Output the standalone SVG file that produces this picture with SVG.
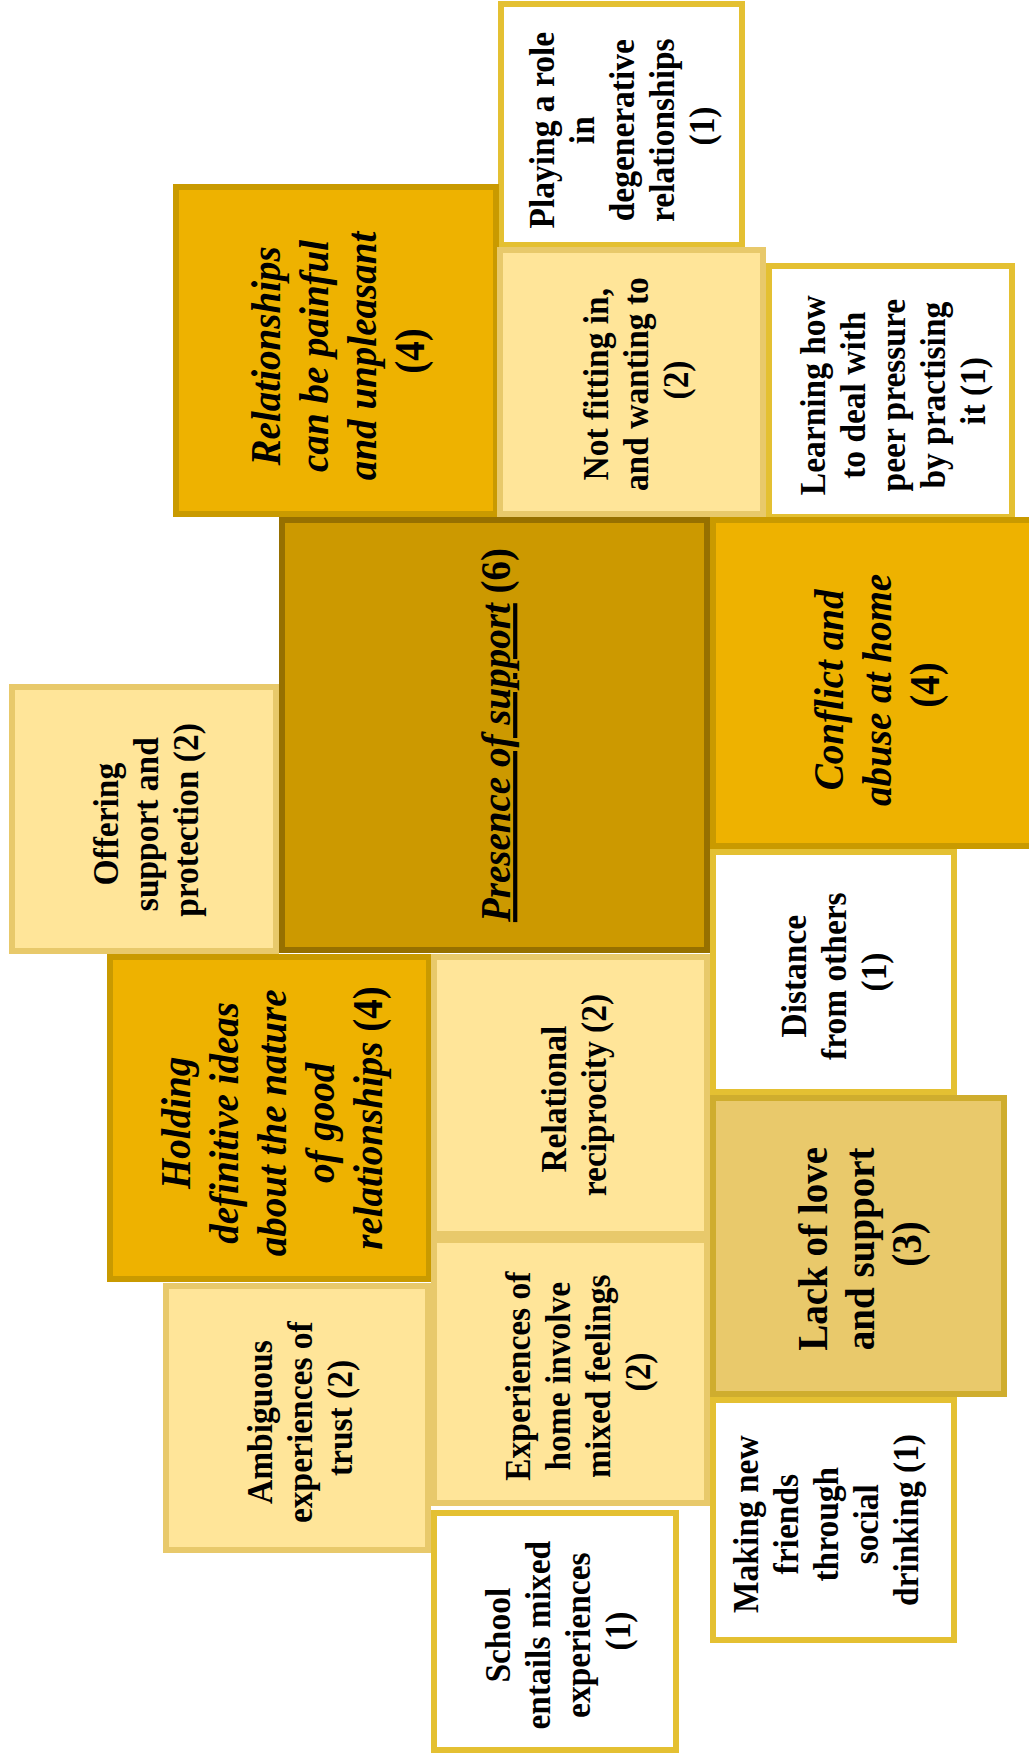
<svg xmlns="http://www.w3.org/2000/svg" width="1029" height="1755" viewBox="0 0 1029 1755">
  <style>
    .box { stroke-width: 6; }
    .core { fill: #CC9900; stroke: #967000; }
    .mid { fill: #EEB200; stroke: #C99A00; }
    .light { fill: #FFE599; stroke: #E8C96B; }
    .lack { fill: #E9C96B; stroke: #CFAD2E; }
    .plain { fill: #FFFFFF; stroke: #E4C032; }
    text { font-family: "Liberation Serif", "Times New Roman", serif; font-weight: bold; text-anchor: middle; fill: #000; }
    .s { font-size: 36px; }
    .b { font-size: 42px; }
    .it { font-style: italic; }
    .up { font-style: normal; }
    .ul { text-decoration: underline; }
  </style>
  <rect width="1029" height="1755" fill="#FFFFFF"/>

  <g id="nodes">
    <g id="playing-a-role">
      <rect class="box plain" x="501" y="4" width="241" height="241"/>
      <text class="s" transform="translate(622,126) rotate(-90) scale(0.93,1)">
        <tspan x="0" y="-68">Playing a role</tspan>
        <tspan x="0" y="-28">in</tspan>
        <tspan x="0" y="12">degenerative</tspan>
        <tspan x="0" y="52">relationships</tspan>
        <tspan x="0" y="92">(1)</tspan>
      </text>
    </g>

    <g id="relationships-painful">
      <rect class="box mid" x="176" y="187" width="320" height="327"/>
      <text class="b it" transform="translate(338,351) rotate(-90) scale(0.93,1)">
        <tspan x="0" y="-58">Relationships</tspan>
        <tspan x="0" y="-10">can be painful</tspan>
        <tspan x="0" y="38">and unpleasant</tspan>
        <tspan x="0" y="86" class="up">(4)</tspan>
      </text>
    </g>

    <g id="not-fitting-in">
      <rect class="box light" x="500" y="250" width="263" height="264"/>
      <text class="s" transform="translate(636,380) rotate(-90) scale(0.93,1)">
        <tspan x="0" y="-28">Not fitting in,</tspan>
        <tspan x="0" y="12">and wanting to</tspan>
        <tspan x="0" y="52">(2)</tspan>
      </text>
    </g>

    <g id="learning-peer-pressure">
      <rect class="box plain" x="769" y="266" width="243" height="251"/>
      <text class="s" transform="translate(893,391) rotate(-90) scale(0.93,1)">
        <tspan x="0" y="-68">Learning how</tspan>
        <tspan x="0" y="-28">to deal with</tspan>
        <tspan x="0" y="12">peer pressure</tspan>
        <tspan x="0" y="52">by practising</tspan>
        <tspan x="0" y="92">it (1)</tspan>
      </text>
    </g>

    <g id="presence-of-support">
      <rect class="box core" x="282" y="520" width="425" height="430"/>
      <text class="b" transform="translate(496,735) rotate(-90) scale(0.93,1)">
        <tspan x="0" y="14"><tspan class="it ul">Presence of support</tspan> (6)</tspan>
      </text>
    </g>

    <g id="conflict-abuse-home">
      <rect class="box mid" x="713" y="520" width="330" height="326"/>
      <text class="b it" transform="translate(877,685) rotate(-90) scale(0.93,1)">
        <tspan x="0" y="-34">Conflict and</tspan>
        <tspan x="0" y="14">abuse at home</tspan>
        <tspan x="0" y="62" class="up">(4)</tspan>
      </text>
    </g>

    <g id="offering-support">
      <rect class="box light" x="12" y="687" width="264" height="264"/>
      <text class="s" transform="translate(146,820) rotate(-90) scale(0.93,1)">
        <tspan x="0" y="-28">Offering</tspan>
        <tspan x="0" y="12">support and</tspan>
        <tspan x="0" y="52">protection (2)</tspan>
      </text>
    </g>

    <g id="distance-from-others">
      <rect class="box plain" x="713" y="852" width="241" height="240"/>
      <text class="s" transform="translate(834,972) rotate(-90) scale(0.93,1)">
        <tspan x="0" y="-28">Distance</tspan>
        <tspan x="0" y="12">from others</tspan>
        <tspan x="0" y="52">(1)</tspan>
      </text>
    </g>

    <g id="holding-definitive-ideas">
      <rect class="box mid" x="110" y="957" width="319" height="322"/>
      <text class="b it" transform="translate(272,1118) rotate(-90) scale(0.93,1)">
        <tspan x="0" y="-82">Holding</tspan>
        <tspan x="0" y="-34">definitive ideas</tspan>
        <tspan x="0" y="14">about the nature</tspan>
        <tspan x="0" y="62">of good</tspan>
        <tspan x="0" y="110">relationships <tspan class="up">(4)</tspan></tspan>
      </text>
    </g>

    <g id="relational-reciprocity">
      <rect class="box light" x="434" y="957" width="273" height="277"/>
      <text class="s" transform="translate(574,1095) rotate(-90) scale(0.93,1)">
        <tspan x="0" y="-8">Relational</tspan>
        <tspan x="0" y="32">reciprocity (2)</tspan>
      </text>
    </g>

    <g id="lack-of-love">
      <rect class="box lack" x="713" y="1098" width="291" height="296"/>
      <text class="b" transform="translate(860,1244) rotate(-90) scale(0.93,1)">
        <tspan x="0" y="-33">Lack of love</tspan>
        <tspan x="0" y="14">and support</tspan>
        <tspan x="0" y="61">(3)</tspan>
      </text>
    </g>

    <g id="ambiguous-trust">
      <rect class="box light" x="166" y="1286" width="262" height="264"/>
      <text class="s" transform="translate(300,1418) rotate(-90) scale(0.93,1)">
        <tspan x="0" y="-28">Ambiguous</tspan>
        <tspan x="0" y="12">experiences of</tspan>
        <tspan x="0" y="52">trust (2)</tspan>
      </text>
    </g>

    <g id="experiences-of-home">
      <rect class="box light" x="434" y="1240" width="273" height="263"/>
      <text class="s" transform="translate(578,1372) rotate(-90) scale(0.93,1)">
        <tspan x="0" y="-48">Experiences of</tspan>
        <tspan x="0" y="-8">home involve</tspan>
        <tspan x="0" y="32">mixed feelings</tspan>
        <tspan x="0" y="72">(2)</tspan>
      </text>
    </g>

    <g id="making-new-friends">
      <rect class="box plain" x="713" y="1400" width="241" height="240"/>
      <text class="s" transform="translate(826,1520) rotate(-90) scale(0.93,1)">
        <tspan x="0" y="-68">Making new</tspan>
        <tspan x="0" y="-28">friends</tspan>
        <tspan x="0" y="12">through</tspan>
        <tspan x="0" y="52">social</tspan>
        <tspan x="0" y="92">drinking (1)</tspan>
      </text>
    </g>

    <g id="school-mixed">
      <rect class="box plain" x="434" y="1513" width="242" height="237"/>
      <text class="s" transform="translate(558,1631) rotate(-90) scale(0.93,1)">
        <tspan x="0" y="-48">School</tspan>
        <tspan x="0" y="-8">entails mixed</tspan>
        <tspan x="0" y="32">experiences</tspan>
        <tspan x="0" y="72">(1)</tspan>
      </text>
    </g>
  </g>

  <g id="connectors"/>
</svg>
